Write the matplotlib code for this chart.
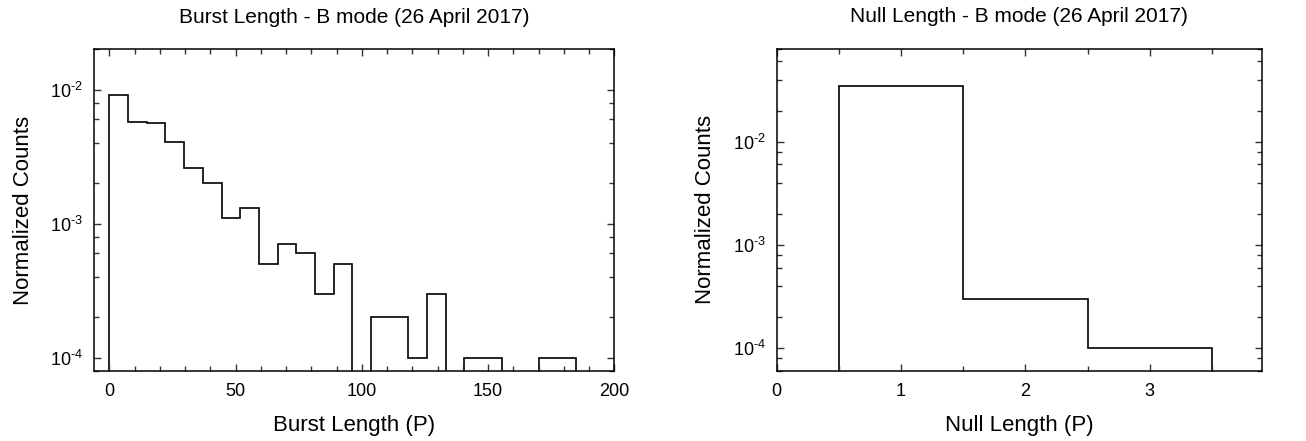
"""Burst and null length histograms, B mode, 26 April 2017."""

from __future__ import annotations

import matplotlib

matplotlib.use("Agg")

import matplotlib.pyplot as plt  # noqa: E402
import numpy as np  # noqa: E402
from matplotlib.ticker import (  # noqa: E402
    FuncFormatter,
    LogLocator,
    MultipleLocator,
    NullFormatter,
)


# burst length histogram: 25 bins of 7.4 P between 0 and 185 P
BURST_EDGES = np.linspace(0.0, 185.0, 26)
BURST_COUNTS = [
    0.0091, 0.0057, 0.0056, 0.0041, 0.0026,
    0.0020, 0.0011, 0.0013, 0.0005, 0.0007,
    0.0006, 0.0003, 0.0005, 0.0, 0.0002,
    0.0002, 0.0001, 0.0003, 0.0, 0.0001,
    0.0001, 0.0, 0.0, 0.0001, 0.0001,
]

# null length histogram: unit bins centred on 1, 2, 3 P
NULL_EDGES = [0.5, 1.5, 2.5, 3.5]
NULL_COUNTS = [0.0345, 0.0003, 0.0001]

TITLE_DATE = "26 April 2017"
FLOOR = 1e-7  # empty bins are drawn below the visible range

plt.rcParams["font.family"] = ["Liberation Sans", "DejaVu Sans"]
plt.rcParams["mathtext.fontset"] = "custom"
plt.rcParams["mathtext.rm"] = "Liberation Sans"
plt.rcParams["mathtext.it"] = "Liberation Sans:italic"
plt.rcParams["mathtext.bf"] = "Liberation Sans:bold"


def _decade_label(value, _pos):
    exponent = int(round(np.log10(value)))
    sign = r"\text{-}" if exponent < 0 else ""
    return rf"$10^{{{sign}{abs(exponent)}}}$"


def _style_axes(ax, xmajor, xminor):
    ax.set_yscale("log")
    ax.xaxis.set_major_locator(MultipleLocator(xmajor))
    ax.xaxis.set_minor_locator(MultipleLocator(xminor))
    ax.yaxis.set_major_locator(LogLocator(base=10, subs=(1.0,)))
    ax.yaxis.set_major_formatter(FuncFormatter(_decade_label))
    ax.yaxis.set_minor_locator(LogLocator(base=10, subs=(2.0, 4.0, 6.0, 8.0)))
    ax.yaxis.set_minor_formatter(NullFormatter())
    ax.tick_params(
        which="both", direction="in", top=True, right=True,
        labelsize=13, width=1.0, color="#333333",
    )
    ax.tick_params(which="major", length=5)
    ax.tick_params(which="minor", length=3.5)
    ax.tick_params(axis="x", which="major", pad=9)
    ax.tick_params(axis="y", which="major", pad=8)
    for spine in ax.spines.values():
        spine.set_linewidth(1.1)


def _draw_hist(ax, edges, counts):
    values = np.asarray(counts, dtype=float)
    values = np.where(values > 0, values, FLOOR)
    ax.stairs(values, edges, baseline=FLOOR, color="black", linewidth=1.2)


def main() -> None:
    fig = plt.figure(figsize=(13.06, 4.41), dpi=100)

    ax_burst = fig.add_axes([0.0722, 0.1594, 0.3982, 0.7288])
    _draw_hist(ax_burst, BURST_EDGES, BURST_COUNTS)
    _style_axes(ax_burst, 50, 10)
    ax_burst.set_xlim(-6, 200)
    ax_burst.set_ylim(8e-5, 2e-2)
    ax_burst.set_title(f"Burst Length - B mode ({TITLE_DATE})", fontsize=15, pad=19)
    ax_burst.set_xlabel("Burst Length (P)", fontsize=16, labelpad=11)
    ax_burst.set_ylabel("Normalized Counts", fontsize=16, labelpad=12)

    ax_null = fig.add_axes([0.5947, 0.1594, 0.3714, 0.7306])
    _draw_hist(ax_null, NULL_EDGES, NULL_COUNTS)
    _style_axes(ax_null, 1, 0.5)
    ax_null.set_xlim(0, 3.9)
    ax_null.set_ylim(6e-5, 8e-2)
    ax_null.set_title(f"Null Length - B mode ({TITLE_DATE})", fontsize=15, pad=19)
    ax_null.set_xlabel("Null Length (P)", fontsize=16, labelpad=11)
    ax_null.set_ylabel("Normalized Counts", fontsize=16, labelpad=12)

    fig.savefig("out.png", dpi=100, facecolor="white")
    plt.close(fig)


if __name__ == "__main__":
    main()
